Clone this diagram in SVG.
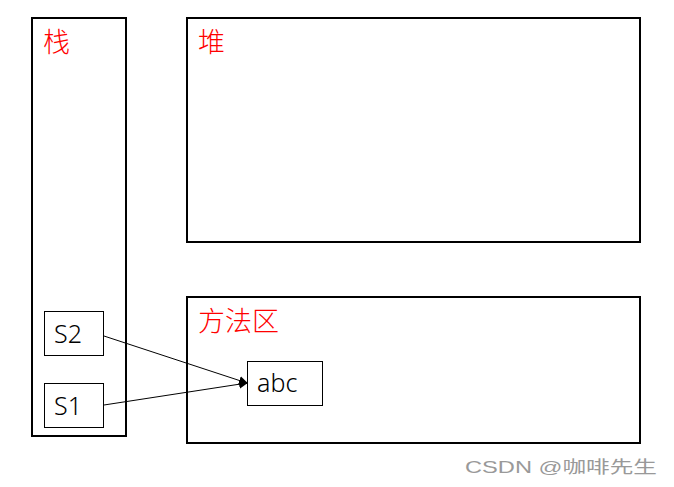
<svg xmlns="http://www.w3.org/2000/svg" width="674" height="487" viewBox="0 0 674 487">
<style>
.area{fill:#fff;stroke:#000;stroke-width:2}
.box{fill:#fff;stroke:#000;stroke-width:1}
.lbl{font-family:"Noto Sans CJK SC",sans-serif;font-size:27px;font-weight:300;fill:#ff0000}
.t{font-family:"Noto Sans","Noto Sans CJK SC",sans-serif;font-size:25px;font-weight:300;fill:#000}
.wm{font-family:"Liberation Sans","Noto Sans CJK SC",sans-serif;font-size:17px;fill:#999}
.c{stroke:#000;stroke-width:1;fill:none}
</style>
<defs>
<marker id="ah" markerWidth="9" markerHeight="9" refX="8" refY="4.5" orient="auto" markerUnits="userSpaceOnUse">
<path d="M0,0 L9,4.5 L0,9 Z" fill="#000"/>
</marker>
</defs>
<rect width="674" height="487" fill="#fff"/>
<g id="stack">
<rect class="area" x="32" y="18" width="94" height="418"/>
<text class="lbl" x="43" y="52">栈</text>
</g>
<g id="heap">
<rect class="area" x="187" y="18" width="453" height="224"/>
<text class="lbl" x="198" y="52">堆</text>
</g>
<g id="method">
<rect class="area" x="187" y="297" width="453" height="146"/>
<text class="lbl" x="198" y="331">方法区</text>
</g>
<g id="s2">
<rect class="box" x="44.5" y="311.5" width="59" height="44"/>
<text class="t" x="54" y="343">S2</text>
</g>
<g id="s1">
<rect class="box" x="44.5" y="383.5" width="59" height="44"/>
<text class="t" x="54" y="415">S1</text>
</g>
<g id="abc">
<rect class="box" x="247.5" y="361.5" width="75" height="44"/>
<text class="t" x="257" y="392">abc</text>
</g>
<g id="connectors">
<line class="c" x1="104" y1="336" x2="247" y2="383" marker-end="url(#ah)"/>
<line class="c" x1="104" y1="405" x2="247" y2="383" marker-end="url(#ah)"/>
</g>
<text class="wm" x="465" y="473" textLength="192" lengthAdjust="spacingAndGlyphs">CSDN @咖啡先生</text>
</svg>
